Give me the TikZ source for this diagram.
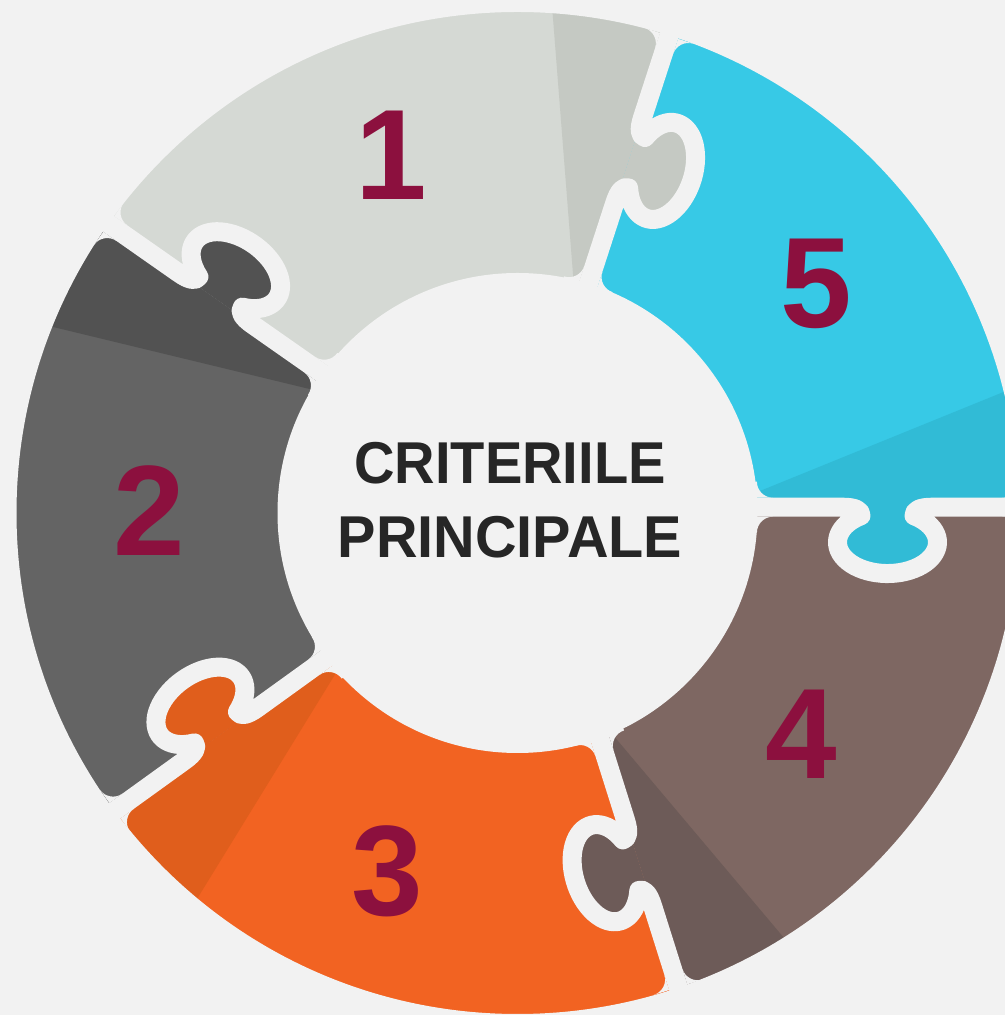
\documentclass[tikz,border=0pt]{standalone}
\usepackage{fontspec}
\setmainfont{Liberation Sans}
\usetikzlibrary{calc}
\definecolor{bgcol}{HTML}{F2F2F2}
\definecolor{onelight}{HTML}{D5D9D4}
\definecolor{onedark}{HTML}{C5C9C3}
\definecolor{twolight}{HTML}{646464}
\definecolor{twodark}{HTML}{525252}
\definecolor{threelight}{HTML}{F26322}
\definecolor{threedark}{HTML}{E05E1C}
\definecolor{fourlight}{HTML}{7E6762}
\definecolor{fourdark}{HTML}{6D5B58}
\definecolor{fivelight}{HTML}{37C9E6}
\definecolor{fivedark}{HTML}{31BBD6}
\definecolor{numcol}{HTML}{8C103E}
\definecolor{titlecol}{HTML}{262626}

\newcommand{\tabcurve}{.. controls (338,0) and (343.5,-3) .. (343.5,-8.5) arc[start angle=122, end angle=418, x radius=50, y radius=31.3] .. controls (396.5,-3) and (402,0) .. (415,0)}
\newcommand{\cornercuts}{%
  \fill[bgcol] (484.6,9.5) -- (500.6,9.5) -- (500.6,25.5) .. controls (500.6,16.7) and (493.4,9.5) .. (484.6,9.5) -- cycle;
  \fill[bgcol] (484.6,-9.5) -- (500.6,-9.5) -- (500.6,-25.5) .. controls (500.6,-16.7) and (493.4,-9.5) .. (484.6,-9.5) -- cycle;
  \fill[bgcol] (255.4,9.5) -- (236.4,9.5) -- (236.4,25.5) -- (239.4,25.5) .. controls (239.4,16.7) and (246.6,9.5) .. (255.4,9.5) -- cycle;
  \fill[bgcol] (255.4,-9.5) -- (236.4,-9.5) -- (236.4,-25.5) -- (239.4,-25.5) .. controls (239.4,-16.7) and (246.6,-9.5) .. (255.4,-9.5) -- cycle;}

\begin{document}
\begin{tikzpicture}[x=0.1mm, y=0.1mm,
  gapline/.style={draw=bgcol, line width=1.9mm, line join=round},
  numlabel/.style={text=numcol, inner sep=0pt, font=\fontsize{36.6}{40}\selectfont\bfseries},
  titletext/.style={text=titlecol, inner sep=0pt, anchor=base, font=\fontsize{16.8}{20}\selectfont\bfseries}]
  \useasboundingbox (0,0) rectangle (1005,1015);
  \fill[bgcol] (0,0) rectangle (1005,1015);
  \coordinate (O) at (517.5,502);
  \foreach \gname/\g/\off in {g54/0/5.8, g15/72/3.3, g21/145/-2.3, g32/215.8/6, g43/287.5/10.7}{
    \coordinate (\gname-i) at ($(O)+(\g:150)+(\g+90:\off)$);
    \coordinate (\gname-o) at ($(O)+(\g:750)+(\g+90:\off)$);
  }
  \fill[onelight] (g15-i) -- (g15-o) -- ($(O)+(108.5:900)$) -- (g21-o) -- (g21-i) -- cycle;
  \fill[twolight] (g21-i) -- (g21-o) -- ($(O)+(180.4:900)$) -- (g32-o) -- (g32-i) -- cycle;
  \fill[threelight] (g32-i) -- (g32-o) -- ($(O)+(251.7:900)$) -- (g43-o) -- (g43-i) -- cycle;
  \fill[fourlight] (g43-i) -- (g43-o) -- ($(O)+(323.8:900)$) -- (g54-o) -- (g54-i) -- cycle;
  \fill[fivelight] (g54-i) -- (g54-o) -- ($(O)+(36:900)$) -- (g15-o) -- (g15-i) -- cycle;
  \foreach \gname/\a/\b/\tabcol in {g15/76.9/86/onedark, g21/149.4/158.2/twodark, g32/221.6/230.3/threedark, g43/293.5/302.1/fourdark, g54/5.3/14/fivedark}{
    \coordinate (din) at ($(O)+(\a:245)$);
    \coordinate (dout) at ($(O)+(\b:502)$);
    \fill[\tabcol] (\gname-i) -- (\gname-o) -- ($(din)!1.9!(dout)$) -- ($(din)!-0.3!(dout)$) -- cycle;
  }
  \foreach \g/\off/\tabcol in {0/5.8/fivedark, 72/3.3/onedark, 145/-2.3/twodark, 215.8/6/threedark, 287.5/10.7/fourdark}{
    \begin{scope}[shift={(O)}, rotate=\g, shift={(0,\off)}]
      \fill[\tabcol] (325,0) \tabcurve -- cycle;
      \draw[gapline] (150,0) -- (325,0) \tabcurve -- (750,0);
      \cornercuts
    \end{scope}
  }
  \fill[bgcol, even odd rule] (-20,-20) rectangle (1030,1040) (O) circle[radius=501];
  \fill[bgcol] (O) circle[radius=240];
  \node[numlabel] (n1) at (391.5,859.5) {1};
  \node[numlabel] (n2) at (149.5,504) {2};
  \node[numlabel] (n3) at (387.5,143.5) {3};
  \node[numlabel] (n4) at (801.5,281) {4};
  \node[numlabel] (n5) at (816.5,731) {5};
  \node[titletext] (t1) at (510,531) {\scalebox{0.95}[1]{CRITERIILE}};
  \node[titletext] (t2) at (510,457.7) {\scalebox{0.975}[1]{PRINCIPALE}};
\end{tikzpicture}
\end{document}
